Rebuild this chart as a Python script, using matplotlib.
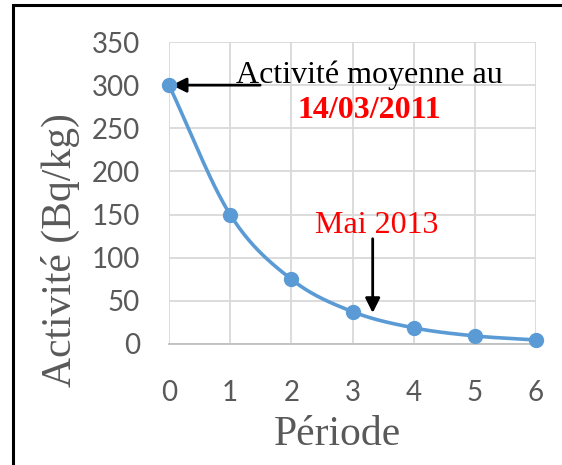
import numpy as np
import matplotlib
matplotlib.use("Agg")
from matplotlib import pyplot as plt
from matplotlib.patches import Rectangle

# activity halves every period
periode = [0, 1, 2, 3, 4, 5, 6]
activite = [300, 150, 75, 37.5, 18.75, 9.375, 4.6875]
yticks = [0, 50, 100, 150, 200, 250, 300, 350]

BLUE = "#5b9bd5"
GREY = "#595959"


# smoothed line through the points (Catmull-Rom, like a spreadsheet "smoothed line")
def smooth(x, y, n=40):
    x = np.asarray(x, float)
    y = np.asarray(y, float)
    px = np.concatenate([[2 * x[0] - x[1]], x, [2 * x[-1] - x[-2]]])
    py = np.concatenate([[2 * y[0] - y[1]], y, [2 * y[-1] - y[-2]]])
    xs, ys = [], []
    t = np.linspace(0, 1, n)
    for i in range(1, len(px) - 2):
        for p, out in ((px, xs), (py, ys)):
            p0, p1, p2, p3 = p[i - 1], p[i], p[i + 1], p[i + 2]
            out.extend(0.5 * (2 * p1 + (-p0 + p2) * t
                              + (2 * p0 - 5 * p1 + 4 * p2 - p3) * t ** 2
                              + (-p0 + 3 * p1 - 3 * p2 + p3) * t ** 3))
    return xs, ys


fig = plt.figure(figsize=(5.62, 4.65), dpi=100)
ax = fig.add_axes([169 / 562, 1 - 344 / 465, 367 / 562, 302 / 465])

sx, sy = smooth(periode, activite)
ax.plot(sx, sy, color=BLUE, lw=2.6, clip_on=False, zorder=3)
ax.plot(periode, activite, "o", color=BLUE, ms=10, clip_on=False, zorder=4)

ax.set_xlim(0, 6)
ax.set_ylim(0, 350)
ax.set_xticks(periode)
ax.set_yticks(yticks)
ax.grid(True, color="#d9d9d9", lw=1.3)
ax.set_axisbelow(True)
for s in ["top", "right", "left"]:
    ax.spines[s].set_visible(False)
ax.spines["bottom"].set_color("#bfbfbf")
ax.spines["bottom"].set_linewidth(1.3)
ax.tick_params(length=0, labelsize=20, labelcolor=GREY)
ax.tick_params(axis="x", pad=26)
ax.tick_params(axis="y", pad=21)
for lab in ax.get_xticklabels() + ax.get_yticklabels():
    lab.set_family("Lato")

ax.set_xlabel("Période", family="Liberation Serif", fontsize=30, color=GREY, va="center")
ax.set_ylabel("Activité (Bq/kg)", family="Liberation Serif", fontsize=30, color=GREY, va="center")
ax.xaxis.set_label_coords(0.458, -0.302)
ax.yaxis.set_label_coords(-0.295, 0.31)

# annotations
ax.annotate("", xy=(0, 300), xytext=(1.49, 300),
            arrowprops=dict(arrowstyle="-|>", color="black", lw=2, mutation_scale=22,
                            shrinkA=0, shrinkB=2))
ax.text(3.27, 312, "Activité moyenne au", family="Liberation Serif", fontsize=23,
        color="black", ha="center", va="center")
ax.text(3.27, 271, "14/03/2011", family="Liberation Serif", fontsize=23,
        color="red", weight="bold", ha="center", va="center")

ax.annotate("", xy=(3.33, 36), xytext=(3.33, 122),
            arrowprops=dict(arrowstyle="-|>", color="black", lw=2, mutation_scale=22,
                            shrinkA=0, shrinkB=0))
ax.text(3.4, 137, "Mai 2013", family="Liberation Serif", fontsize=23,
        color="red", ha="center", va="center")

# outer frame
fig.patches.append(Rectangle((13 / 562, -0.1), 1.2, 1.1 - 5 / 465, transform=fig.transFigure,
                             fill=False, ec="black", lw=2.2))

fig.savefig("out.png", dpi=100)
